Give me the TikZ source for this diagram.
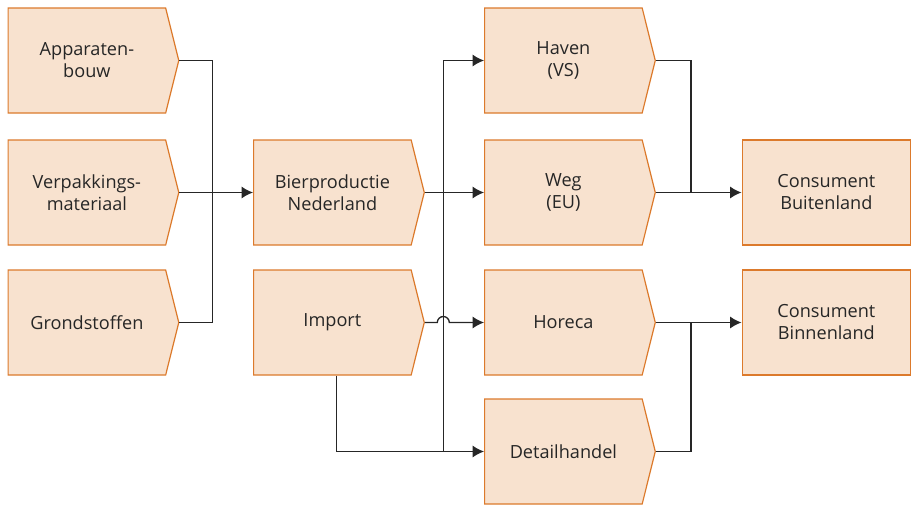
\documentclass[tikz,border=0pt]{standalone}
\usepackage{fontspec}
\setmainfont{Open Sans}
\usetikzlibrary{arrows.meta,calc,positioning,shapes.symbols}
\definecolor{flowpeach}{HTML}{F8E2CF}
\definecolor{floworange}{HTML}{DC7A2C}
\definecolor{darkgray}{HTML}{262626}
\tikzset{
  stage/.style={signal,signal to=east,signal pointer angle=152,draw=floworange,fill=flowpeach,
    line width=0.9pt,minimum width=128pt,minimum height=78.75pt,inner sep=0pt,
    align=center,text=darkgray,font=\fontsize{13.6}{16.5}\selectfont,anchor=west},
  market/.style={rectangle,draw=floworange,fill=flowpeach,line width=0.9pt,
    minimum width=126.4pt,minimum height=78.75pt,inner sep=0pt,
    align=center,text=darkgray,font=\fontsize{13.6}{16.5}\selectfont,anchor=west},
  link/.style={darkgray,line width=1pt},
  flow/.style={link,-{Latex[length=8.5pt,width=9pt]}}
}
\begin{document}
\begin{tikzpicture}[x=0.75pt,y=-0.75pt]
  \useasboundingbox (0,0) rectangle (912,504);
  % suppliers
  \node[stage] (app) at (7.5,60.5) {Apparaten-\\bouw};
  \node[stage] (verp) at (7.5,192.5) {Verpakkings-\\materiaal};
  \node[stage] (grond) at (7.5,322.5) {Grondstoffen};
  % production and import
  \node[stage] (bier) at (253,192.5) {Bierproductie\\Nederland};
  \node[stage] (imp) at (253,322.5) {Import};
  % channels
  \node[stage] (haven) at (484,60.5) {Haven\\(VS)};
  \node[stage] (weg) at (484,192.5) {Weg\\(EU)};
  \node[stage] (horeca) at (484,322.5) {Horeca};
  \node[stage] (detail) at (484,451.5) {Detailhandel};
  % consumers
  \node[market] (buiten) at (741.5,192.5) {Consument\\Buitenland};
  \node[market] (binnen) at (741.5,322.5) {Consument\\Binnenland};

  \coordinate (inbus) at (212.3,192.5);
  \coordinate (outbus) at (443.3,192.5);
  \coordinate (hop) at (outbus |- imp.east);
  \coordinate (lowbus) at (outbus |- detail.west);
  \coordinate (exbus) at (691,192.5);
  \coordinate (exbus2) at (691,322.5);

  \draw[link] (app.east) -| (inbus) |- (grond.east);
  \draw[flow] (verp.east) -- (bier.west);
  \draw[flow] (bier.east) -- (weg.west);
  \draw[flow] (outbus) |- (haven.west);
  \draw[flow] (outbus) |- (detail.west);
  \draw[link] ([xshift=3pt]imp.south) |- (lowbus);
  \draw[flow] (imp.east) -- ($(hop)+(-6,0)$) arc[start angle=180,end angle=0,radius=4.5pt] -- (horeca.west);
  \draw[link] (haven.east) -| (exbus);
  \draw[flow] (weg.east) -- (buiten.west);
  \draw[flow] (horeca.east) -- (binnen.west);
  \draw[link] (detail.east) -| (exbus2);
\end{tikzpicture}
\end{document}
